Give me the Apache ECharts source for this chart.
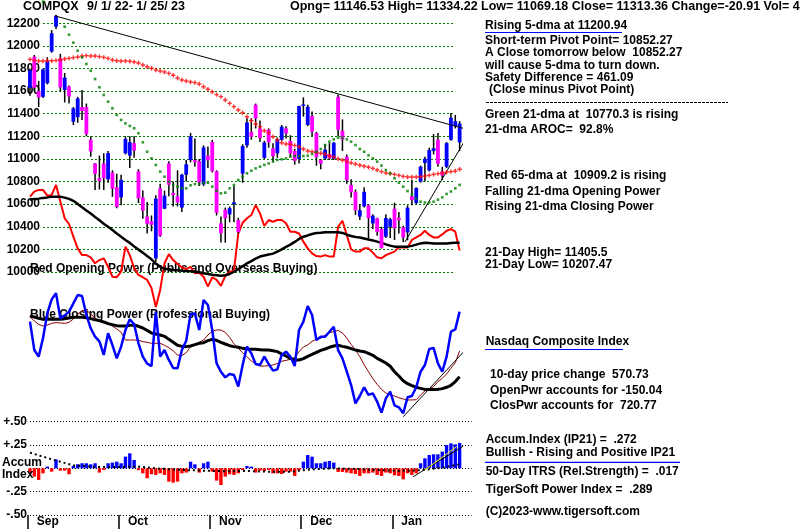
<!DOCTYPE html>
<html><head><meta charset="utf-8">
<script src="https://cdn.jsdelivr.net/npm/echarts@6/dist/echarts.min.js"></script>
<style>html,body{margin:0;padding:0;background:#fff}#c{width:800px;height:532px}</style>
</head><body><div id="c"></div>
<script>
const dates = ['9/1','9/2','9/6','9/7','9/8','9/9','9/12','9/13','9/14','9/15','9/16','9/19','9/20','9/21','9/22','9/23','9/26','9/27','9/28','9/29','9/30',
'10/3','10/4','10/5','10/6','10/7','10/10','10/11','10/12','10/13','10/14','10/17','10/18','10/19','10/20','10/21','10/24','10/25','10/26','10/27','10/28','10/31',
'11/1','11/2','11/3','11/4','11/7','11/8','11/9','11/10','11/11','11/14','11/15','11/16','11/17','11/18','11/21','11/22','11/23','11/25','11/28','11/29','11/30',
'12/1','12/2','12/5','12/6','12/7','12/8','12/9','12/12','12/13','12/14','12/15','12/16','12/19','12/20','12/21','12/22','12/23','12/27','12/28','12/29','12/30',
'1/3','1/4','1/5','1/6','1/9','1/10','1/11','1/12','1/13','1/17','1/18','1/19','1/20','1/23','1/24','1/25'];
const monthNames = ['', 'Jan','Feb','Mar','Apr','May','Jun','Jul','Aug','Sep','Oct','Nov','Dec'];

const opens = [11630,11905,11600,11550,11670,11950,12170,11890,11610,11640,11330,11370,11460,11460,11170,10960,10830,10960,10820,10880,10750,
10660,11050,11030,11140,10890,10660,10490,10450,10120,10740,10560,10960,10700,10670,10570,10860,10990,10990,10980,10775,11030,
11150,10890,10430,10550,10510,10600,10460,10870,11120,11240,11480,11270,11010,11260,11094,11050,11170,11270,11160,11070,11000,
11470,11300,11380,11230,10990,11005,11044,11000,11550,11250,11020,10770,10710,10490,10580,10590,10430,10475,10380,10312,10400,
10560,10480,10395,10350,10670,10610,10800,10965,10900,11070,11170,10890,10930,11170,11290,11146.53];
const highs = [11800,11920,11690,11800,11900,12140,12275,11930,11760,11650,11460,11550,11610,11490,11200,10965,11030,11050,11070,10900,10870,
10860,11200,11200,11200,10910,10720,10620,10500,10680,10780,10720,10980,10800,10900,10870,10990,11230,11180,11000,11120,11110,
11170,10900,10490,10570,10580,10760,10480,11130,11360,11360,11490,11340,11160,11270,11140,11190,11300,11290,11210,11090,11470,
11545,11480,11420,11240,11000,11130,11140,11150,11570,11350,11040,10820,10730,10600,10750,10600,10510,10480,10400,10510,10480,
10613,10530,10410,10590,10815,10750,10940,11020,11100,11220,11230,10930,11150,11405.5,11390,11334.22];
const lows = [11560,11600,11460,11540,11660,11940,12150,11600,11500,11490,11300,11320,11345,11200,11020,10725,10730,10725,10790,10665,10565,
10590,11040,10920,11010,10610,10470,10340,10360,10090,10310,10555,10670,10580,10580,10530,10800,10970,10930,10760,10760,10920,
10880,10500,10260,10260,10440,10440,10340,10790,11100,11170,11270,11150,11000,11100,10980,11010,11160,11180,11020,10950,10960,
11375,11290,11200,10940,10910,10990,10990,10990,11200,11070,10780,10660,10505,10460,10570,10300,10380,10320,10207.47,10300,10300,
10283,10340,10265,10280,10590,10600,10790,10800,10890,11040,10930,10814,10920,11160,11270,11069.18];
const closes = [11785.13,11630.86,11544.91,11791.90,11862.13,12112.31,12266.41,11633.57,11719.68,11552.36,11448.40,11535.02,11425.05,11220.19,11066.81,10867.93,10802.92,10829.50,11051.64,10737.51,10575.62,
10815.43,11176.41,11148.64,11073.31,10652.41,10542.10,10426.19,10417.10,10649.15,10321.39,10675.80,10772.40,10680.51,10614.84,10859.72,10952.61,11199.12,10970.99,10792.68,11102.45,10988.15,
10890.85,10524.80,10342.94,10475.25,10564.52,10616.20,10353.17,11114.15,11323.33,11196.22,11358.41,11183.66,11144.96,11146.06,11024.51,11174.41,11285.32,11226.36,11049.50,10983.78,11468.00,
11482.45,11461.50,11239.94,11014.89,10958.55,11082.00,11004.62,11143.74,11256.81,11170.89,10810.53,10705.41,10546.03,10547.11,10709.37,10476.12,10497.86,10353.23,10213.29,10478.09,10466.48,
10386.98,10458.76,10305.24,10569.29,10635.65,10742.63,10931.67,11001.10,11079.16,11095.11,10957.01,10852.27,11140.43,11364.41,11334.27,11313.36];

const dma65 = [11881,11872,11866,11866,11869,11869,11872,11878,11884,11890,11896,11902,11911,11914,11911,11911,11905,11899,11890,11875,11869,
11866,11866,11864,11858,11849,11831,11816,11802,11787,11778,11769,11757,11740,11716,11698,11690,11681,11675,11663,11639,11616,
11595,11569,11551,11522,11492,11463,11433,11409,11374,11339,11309,11286,11250,11233,11197,11168,11144,11132,11129,11120,11109,
11088,11070,11064,11058,11050,11041,11029,11017,11002,10988,10979,10967,10955,10944,10935,10926,10917,10902,10888,10876,10870,
10864,10855,10846,10840,10840,10840,10843,10849,10855,10864,10870,10876,10882,10888,10893,10909.2];
const dma21 = [null,null,null,12391,null,null,null,null,12170,12099,12029,11958,11899,11840,11781,11707,11634,11566,11507,11448,11389,
11345,11315,11292,11271,11227,11147,11064,11005,10947,10888,10843,10799,10770,10755,10740,10740,10767,10778,10778,10790,10790,
10755,10719,10696,10702,10740,10770,10814,10843,10873,10896,10917,10932,10947,10961,10976,10991,10997,11005,11020,11026,11026,
11026,11029,11044,11064,11088,11123,11153,11173,11188,11188,11173,11153,11123,11088,11064,11032,11005,10976,10941,10902,10873,
10829,10790,10755,10716,10687,10650,10622,10615,10615,10622,10640,10660,10690,10712,10740,10770.3];

const openPower = [30.3,32.3,33.0,33.0,30.7,31.0,35.0,28.3,21.6,19.3,14.2,9.5,6.8,6.8,5.9,3.5,4.8,5.5,2.1,-1.9,-2.1,
0.1,10.2,6.8,1.5,-1.2,-2.1,-3.2,-6.4,-14.1,-7.2,3.5,7.2,4.8,3.2,1.9,1.2,2.1,-0.5,-0.3,-1.9,-5.9,
-2.1,-3.2,-5.6,-1.6,0.1,0.5,15.5,19.8,21.6,22.9,26.9,23.6,18.5,20.9,20.2,20.9,20.9,19.6,16.2,16.2,15.5,
12.2,9.5,7.5,6.4,6.2,6.8,6.2,6.2,18.2,20.6,14.9,9.1,8.2,8.2,9.5,9.5,7.8,5.9,5.5,6.8,7.5,
8.2,9.9,9.9,9.9,12.9,13.9,14.9,16.6,14.9,13.9,13.9,15.1,16.6,17.2,16.2,8.6];
const openPowerMA = [29.0,29.4,29.5,29.8,30.0,30.3,30.3,30.3,29.9,29.4,28.6,27.3,26.0,24.7,23.5,22.1,20.8,19.4,18.2,16.9,15.5,
14.2,12.9,11.7,10.3,9.0,7.8,6.4,5.1,3.4,2.1,1.3,1.1,0.8,0.7,0.5,0.4,0.3,0.1,-0.1,-0.5,-0.8,
-1.1,-1.3,-1.5,-1.3,-0.8,0.1,1.1,2.3,3.5,4.4,5.4,6.2,6.6,7.0,7.4,8.2,9.1,10.1,11.0,12.1,13.3,
14.2,14.7,15.3,15.7,15.8,16.0,16.0,16.0,16.0,15.7,15.0,14.5,14.1,13.9,13.5,13.1,12.7,12.2,11.7,11.1,10.6,
10.2,10.2,10.2,10.2,10.5,11.0,11.5,11.8,11.7,11.5,11.5,11.5,11.5,11.7,11.8,11.8];

const closePower = [76.0,54.5,49.5,63.4,82.3,92.9,97.5,78.5,80.8,83.6,89.9,96.2,95.5,81.1,71.0,64.6,61.1,50.8,67.2,58.3,48.2,
57.1,69.7,77.8,74.0,59.6,49.5,44.2,42.4,83.6,49.5,54.5,47.0,40.9,40.7,54.5,61.6,81.6,82.3,69.7,92.4,88.6,
69.7,44.4,38.1,33.8,36.4,35.6,26.8,43.2,57.1,52.0,43.9,43.2,49.5,43.9,38.9,39.9,50.8,53.3,49.5,42.4,69.7,
76.0,87.9,81.1,62.1,64.6,64.6,68.4,72.2,54.5,48.2,38.1,28.0,14.1,19.7,26.3,20.5,21.7,15.4,7.1,17.9,23.0,
12.6,11.1,6.6,18.7,19.7,26.3,38.1,43.2,55.3,56.1,44.4,38.1,49.5,68.4,70.2,83.6];
const closePowerMA = [80.3,79.5,78.5,77.8,77.8,78.0,77.8,77.8,78.3,78.8,79.3,79.3,79.3,79.0,78.3,77.5,76.8,75.8,74.5,73.7,73.0,
72.7,72.7,73.2,73.5,72.5,71.2,69.4,67.4,66.7,65.9,64.9,62.6,60.4,58.1,57.3,57.1,57.6,58.6,59.6,60.1,61.6,
62.6,61.9,60.4,59.1,57.8,57.1,56.6,55.8,55.3,55.1,55.1,54.8,54.5,54.5,54.0,53.3,51.5,50.0,48.2,47.0,47.0,
48.0,49.7,51.3,52.8,54.3,55.3,56.6,57.6,58.1,57.3,56.6,55.6,54.5,53.8,53.3,52.0,50.5,48.2,46.5,44.7,42.2,
38.1,34.8,31.3,29.0,27.5,26.3,25.5,24.7,24.7,24.7,24.7,25.3,26.3,27.8,30.6,34.3];
const closePower21 = [79.8,76.5,74.0,72.7,73.5,74.7,75.3,75.0,74.7,75.5,78.0,81.6,84.3,84.8,81.8,78.8,76.3,75.3,74.5,72.7,70.5,
67.9,62.1,62.1,62.1,61.9,60.9,60.4,59.6,59.6,59.6,58.1,56.3,53.8,50.8,50.3,52.5,57.1,58.8,60.4,62.1,65.9,
68.7,69.7,69.7,67.9,64.1,59.3,55.8,52.5,49.5,46.2,43.9,42.4,42.4,42.7,43.2,44.4,46.0,46.7,47.5,49.0,53.3,
56.8,58.3,61.1,62.6,63.4,65.7,67.7,68.4,69.4,67.4,63.6,58.8,54.5,49.5,43.4,38.1,32.8,28.5,24.7,22.0,20.7,
19.7,18.4,17.4,16.7,16.7,16.9,20.5,23.5,25.0,26.8,30.6,33.1,36.4,40.7,44.9,53.8];

const accum = [-0.054,-0.089,-0.125,-0.054,0.018,-0.036,0.096,-0.025,-0.025,-0.064,0.025,0.043,0.054,0.054,0.043,0.054,-0.046,-0.018,0.054,0.061,0.071,
0.054,0.125,0.161,0.089,-0.020,-0.054,-0.107,-0.064,-0.071,-0.054,-0.071,-0.143,-0.154,-0.143,-0.054,-0.046,0.071,0.043,-0.046,0.054,0.071,
-0.036,-0.132,-0.179,-0.089,-0.064,-0.071,-0.054,-0.018,0.025,0.018,-0.046,-0.025,-0.029,-0.018,-0.054,-0.054,-0.061,-0.036,-0.036,-0.082,-0.018,
0.071,0.143,0.125,0.054,0.054,0.071,0.079,0.061,-0.039,-0.039,-0.046,-0.054,-0.061,-0.082,-0.054,-0.054,-0.046,-0.071,-0.082,-0.046,-0.054,
-0.075,-0.082,-0.118,-0.054,-0.071,-0.054,0.054,0.107,0.143,0.150,0.150,0.179,0.250,0.268,0.257,0.272];
const accumMA = [[0,0.168],[5,0.096],[10,0.032],[15,0.014],[20,0.014],[25,0.018],[30,-0.004],[35,-0.018],[40,-0.025],[45,-0.032],
[50,-0.029],[55,-0.036],[60,-0.036],[65,-0.011],[70,0.0],[75,-0.007],[80,-0.018],[85,-0.029],[90,-0.021],[95,0.007],[99,0.043]];

// trend lines (day index, value)
const priceDownTrend = [[5.8,12265],[118,11079]];
const priceUpTrend = [[86.4,10265],[108.3,11690]];
const closePowerTrend = [[86,4.0],[107.8,81]];
const accumTrend = [[88.3,-0.09],[107.8,0.464]];
const accumYellow = [[91,-0.018],[98.3,0.232]];

const monthStarts = [0,21,42,63,84];
const accumLabels = {'0.5':'+.50','0.25':'+.25','0':'','-0.25':'-.25','-0.5':'-.50'};

const FONT = 'bold 12px "Liberation Sans", Arial, sans-serif';
const chart = echarts.init(document.getElementById('c'), null, {renderer:'canvas'});

function T(x, y, text, font, z) {
  return {type:'text', x:0, y:0, z:z||1, style:{x:x, y:y, text:text, font: font||FONT, fill:'#000', textVerticalAlign:'middle', verticalAlign:'middle'}};
}
function L(x1,y1,x2,y2,color,w,dash){
  return {type:'line', z:1, shape:{x1:x1,y1:y1,x2:x2,y2:y2}, style:{stroke:color, lineWidth:w||1, lineDash:dash||null}};
}

const PL = 27.8, PW = 434, BAND = PW/100;
const grids = [
  {left:PL, width:PW, top:23.3, height:248.7},
  {left:PL, width:PW, top:290, height:132},
  {left:PL, width:PW, top:421.7, height:93.2},
  {left:43, width:410, top:23.3, height:248.7},
  {left:30, width:441.7, top:421.7, height:93.2},
  {left:PL-BAND/2, width:PW, top:421.7, height:93.2}
];
const valX = (g) => ({type:'value', gridIndex:g, min:-0.5, max:99.5, show:false});
const LBL = {color:'#000', fontWeight:'bold', fontSize:12, fontFamily:'"Liberation Sans", Arial'};

const option = {
  animation:false,
  backgroundColor:'#fff',
  grid: grids,
  xAxis: [
    {type:'category', gridIndex:0, data:dates, show:false},
    valX(0),
    {type:'category', gridIndex:1, data:dates, show:false},
    valX(1),
    {type:'category', gridIndex:2, data:dates, show:false},
    valX(2),
    {type:'value', gridIndex:3, show:false},
    {type:'value', gridIndex:4, show:false},
    {type:'category', gridIndex:5, data:dates, position:'bottom',
      axisLine:{show:false, onZero:false},
      axisTick:{show:true, alignWithLabel:true, length:14, lineStyle:{color:'#000', width:1.5}, interval:(i)=>monthStarts.indexOf(i)>=0},
      axisLabel:Object.assign({show:true, interval:(i)=>monthStarts.indexOf(i)>=0, margin:1, align:'left', padding:[0,0,0,9],
        formatter:(v)=>monthNames[parseInt(v.split('/')[0])]}, LBL),
      splitLine:{show:false}}
  ],
  yAxis: [
    {type:'value', gridIndex:0, min:10000, max:12200, show:false},
    {type:'value', gridIndex:0, min:0, max:100, show:false},
    {type:'value', gridIndex:1, min:0, max:100, show:false},
    {type:'value', gridIndex:2, min:-0.5, max:0.5, show:false},
    {type:'value', gridIndex:3, min:10000, max:12200, interval:200,
      axisLine:{show:false}, axisTick:{show:false},
      axisLabel:Object.assign({margin:3, formatter:(v)=>String(v)}, LBL),
      splitLine:{show:true, lineStyle:{color:'#008000', width:1, type:[2,2]}}},
    {type:'value', gridIndex:4, min:-0.5, max:0.5, interval:0.25,
      axisLine:{show:false}, axisTick:{show:false},
      axisLabel:Object.assign({margin:3,
        formatter:(v)=>accumLabels[String(v)]!==undefined?accumLabels[String(v)]:''}, LBL),
      splitLine:{show:true, lineStyle:{color:'#000', width:1, type:[1,2]}}},
    {type:'value', gridIndex:5, min:-0.5, max:0.5, show:false}
  ],
  graphic: [
    T(23,6.5,'COMPQX','bold 12.5px "Liberation Sans", Arial'),
    T(87,6.5,'9/ 1/ 22- 1/ 25/ 23','bold 12.5px "Liberation Sans", Arial'),
    T(290,6.5,'Opng= 11146.53 High= 11334.22 Low= 11069.18 Close= 11313.36 Change=-20.91 Vol= 4','bold 12.5px "Liberation Sans", Arial'),
    T(485,25.5,'Rising 5-dma at 11200.94'),
    L(485,32.5,622,32.5,'#0000ff',1.2),
    T(485,41,'Short-term Pivot Point= 10852.27'),
    T(485,52.5,'A Close tomorrow below  10852.27'),
    T(485,66,'will cause 5-dma to turn down.'),
    T(485,77.5,'Safety Difference = 461.09'),
    T(489,90,'(Close minus Pivot Point)'),
    L(486,102.5,728,102.5,'#000',1,[3,1]),
    T(485,114.5,'Green 21-dma at  10770.3 is rising'),
    T(485,130,'21-dma AROC=  92.8%'),
    T(485,176,'Red 65-dma at  10909.2 is rising'),
    T(485,191.7,'Falling 21-dma Opening Power'),
    T(485,207,'Rising 21-dma Closing Power'),
    T(485,252.5,'21-Day High= 11405.5'),
    T(485,265,'21-Day Low= 10207.47'),
    T(30,269,'Red Opening Power (Public and Overseas Buying)'),
    T(30,315,'Blue Closing Power (Professional Buying)'),
    T(485.7,342,'Nasdaq Composite Index'),
    L(485,349.5,623,349.5,'#0000ff',1.2),
    T(490,374.7,'10-day price change  570.73'),
    T(490,390.5,'OpenPwr accounts for -150.04'),
    T(490,406,'ClosPwr accounts for  720.77'),
    T(485.7,440,'Accum.Index (IP21) =  .272'),
    T(485.7,452.5,'Bullish - Rising and Positive IP21'),
    L(485,462.3,680,462.3,'#0000ff',1.2),
    T(485.7,472,'50-Day ITRS (Rel.Strength) =  .017'),
    T(485.7,490,'TigerSoft Power Index =  .289'),
    T(485.7,512,'(C)2023-www.tigersoft.com'),
    T(2,463,'Accum',null,10),
    T(2,474.5,'Index',null,10)
  ],
  series: [
    {type:'line', name:'OP', xAxisIndex:0, yAxisIndex:1, data:openPower, symbol:'none', clip:false, z:2,
      lineStyle:{color:'#ff0000', width:2}},
    {type:'line', name:'OPMA', xAxisIndex:0, yAxisIndex:1, data:openPowerMA, symbol:'none', clip:false, z:2,
      lineStyle:{color:'#000', width:2.5}},
    {type:'custom', name:'candles', xAxisIndex:0, yAxisIndex:0, clip:false, z:3,
      data: dates.map((d,i)=>[i, opens[i], closes[i], lows[i], highs[i]]),
      encode:{x:0, y:[1,2,3,4]},
      renderItem:function(params, api){
        const x = api.value(0), o = api.value(1), c = api.value(2), l = api.value(3), h = api.value(4);
        const pO = api.coord([x,o]), pC = api.coord([x,c]), pL = api.coord([x,l]), pH = api.coord([x,h]);
        const w = 3.8;
        const top = Math.min(pO[1], pC[1]);
        const hh = Math.max(1.5, Math.abs(pO[1]-pC[1]));
        return {type:'group', children:[
          {type:'line', shape:{x1:pL[0], y1:pL[1], x2:pH[0], y2:pH[1]}, style:{stroke:'#000', lineWidth:1.5}},
          {type:'rect', shape:{x:pO[0]-w/2, y:top, width:w, height:hh}, style:{fill: c>=o ? '#0000ff' : '#ff00ff'}}
        ]};
      }},
    {type:'scatter', name:'65dma', xAxisIndex:0, yAxisIndex:0, data:dma65, clip:false, z:4,
      symbol:'path://M1.5,0H2.9V1.5H4.4V2.9H2.9V4.4H1.5V2.9H0V1.5H1.5Z', symbolSize:4.4, itemStyle:{color:'#ff0000'}},
    {type:'scatter', name:'21dma', xAxisIndex:0, yAxisIndex:0, data:dma21, clip:false, z:4,
      symbol:'rect', symbolSize:2.6, itemStyle:{color:'#008000'}},
    {type:'line', xAxisIndex:1, yAxisIndex:0, data:priceDownTrend, symbol:'none', clip:false, z:4,
      lineStyle:{color:'#000', width:1}},
    {type:'line', xAxisIndex:1, yAxisIndex:0, data:priceUpTrend, symbol:'none', clip:false, z:4,
      lineStyle:{color:'#000', width:1}},
    {type:'line', name:'CP21', xAxisIndex:2, yAxisIndex:2, data:closePower21, symbol:'none', clip:false, z:2,
      lineStyle:{color:'#8b0000', width:1}},
    {type:'line', name:'CPMA', xAxisIndex:2, yAxisIndex:2, data:closePowerMA, symbol:'none', clip:false, z:2,
      lineStyle:{color:'#000', width:3}},
    {type:'line', name:'CP', xAxisIndex:2, yAxisIndex:2, data:closePower, symbol:'none', clip:false, z:3,
      lineStyle:{color:'#0000ff', width:2.5}},
    {type:'line', xAxisIndex:3, yAxisIndex:2, data:closePowerTrend, symbol:'none', clip:false, z:4,
      lineStyle:{color:'#000', width:1}},
    {type:'bar', name:'accum', xAxisIndex:4, yAxisIndex:3, barWidth:3.4, z:2,
      data: accum.map(v=>({value:v, itemStyle:{color: v>=0 ? '#0000ff' : '#ff0000'}}))},
    {type:'line', xAxisIndex:5, yAxisIndex:3, data:accumMA, symbol:'none', clip:false, z:3,
      lineStyle:{color:'#000', width:2, type:[2,3]}},
    {type:'line', xAxisIndex:5, yAxisIndex:3, data:accumTrend, symbol:'none', clip:false, z:4,
      lineStyle:{color:'#000', width:1}},
    {type:'line', xAxisIndex:5, yAxisIndex:3, data:accumYellow, symbol:'none', clip:false, z:4,
      lineStyle:{color:'#ffff00', width:1}}
  ]
};
chart.setOption(option);
</script>
</body></html>
